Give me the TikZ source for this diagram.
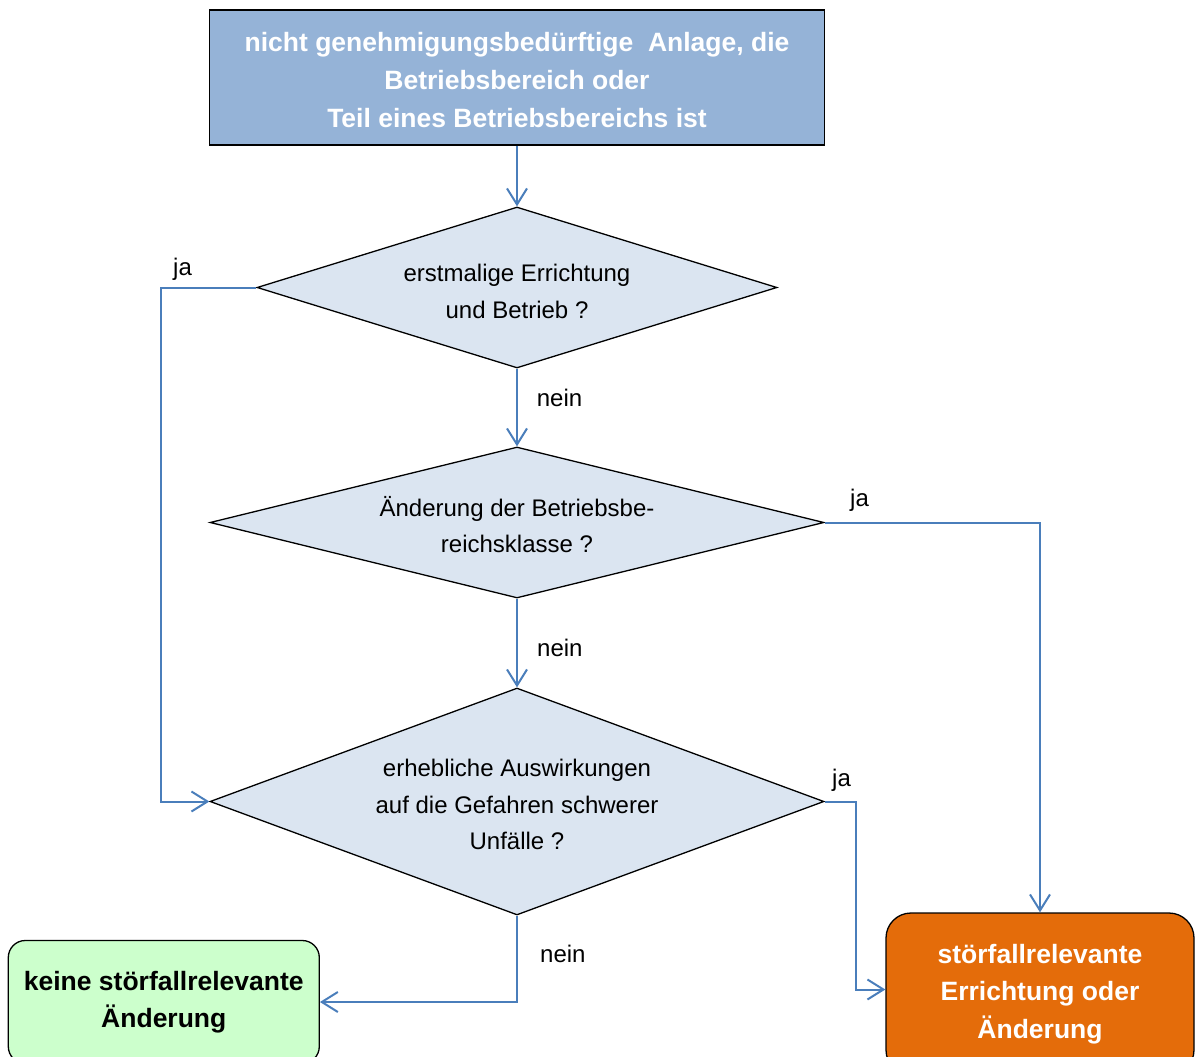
\documentclass[tikz,border=0pt]{standalone}
\usepackage{fontspec}
\setmainfont{Liberation Sans}
\usetikzlibrary{arrows.meta,shapes.geometric,calc}
\definecolor{topblue}{HTML}{95B3D7}
\definecolor{diafill}{HTML}{DBE5F1}
\definecolor{conblue}{HTML}{4A7EBB}
\definecolor{greenfill}{HTML}{CCFFCC}
\definecolor{orangefill}{HTML}{E46C0A}
\begin{document}
\begin{tikzpicture}[x=1pt,y=-1pt,
  box/.style={draw=black, line width=1.3pt, inner sep=0pt, align=center},
  dia/.style={diamond, draw=black, line width=1.3pt, fill=diafill, inner sep=0pt},
  dtext/.style={align=center, font=\fontsize{24}{36.7}\selectfont, inner sep=0pt},
  lbl/.style={anchor=base west, font=\fontsize{24}{28}\selectfont, inner sep=0pt},
  conn/.style={draw=conblue, line width=2pt, -{Straight Barb[length=16pt,width=20pt]}}
]
\useasboundingbox (0,0) rectangle (1195,1057);
\clip (0,0) rectangle (1195,1057);

% top box
\node[box, fill=topblue, minimum width=615pt, minimum height=135pt, text=white,
      font=\bfseries\fontsize{26.5}{37.8}\selectfont] (top) at (517,77.5)
  {\rule{0pt}{24.5pt}nicht genehmigungsbedürftige\ \ Anlage, die\\Betriebsbereich oder\\Teil eines Betriebsbereichs ist};

% diamonds
\node[dia, minimum width=520pt, minimum height=161pt] (d1) at (517,287.5) {};
\node[dia, minimum width=614pt, minimum height=151pt] (d2) at (517,522.5) {};
\node[dia, minimum width=614pt, minimum height=227pt] (d3) at (517,801.5) {};

\node[dtext] (t1) at (517,291.5) {erstmalige Errichtung\\und Betrieb ?};
\node[dtext] (t2) at (517,524.7) {Änderung der Betriebsbe-\\reichsklasse ?};
\node[dtext] (t3) at (517,804.7) {erhebliche Auswirkungen\\auf die Gefahren schwerer\\Unfälle ?};

% result boxes
\node[box, rounded corners=17pt, fill=greenfill, minimum width=311pt, minimum height=123pt,
      font=\bfseries\fontsize{26.5}{37.5}\selectfont] (keine) at (163.8,1002)
  {keine störfallrelevante\\Änderung};
\node[box, rounded corners=25pt, fill=orangefill, text=white, minimum width=308pt, minimum height=162pt,
      font=\bfseries\fontsize{26.5}{37.7}\selectfont] (stoer) at (1040,994)
  {störfallrelevante\\Errichtung oder\\Änderung};

% connectors
\draw[conn] (top.south) -- (d1.north);
\draw[conn] (d1.south) -- (d2.north);
\draw[conn] (d2.south) -- (d3.north);
\draw[conn] (d1.west) -- ++(-95,0) |- (d3.west);
\draw[conn] (d2.east) -| (stoer.north);
\draw[conn] (d3.east) -- ++(31,0) |- ($(stoer.west)+(0,-4.5)$);
\draw[conn] (d3.south) |- (keine.east);

% labels
\node[lbl] (ja1) at (173,275) {ja};
\node[lbl] (nein1) at (536.7,406.7) {nein};
\node[lbl] (ja2) at (850,506) {ja};
\node[lbl] (nein2) at (537,656.5) {nein};
\node[lbl] (ja3) at (832,786) {ja};
\node[lbl] (nein3) at (540,962.7) {nein};
\end{tikzpicture}
\end{document}
